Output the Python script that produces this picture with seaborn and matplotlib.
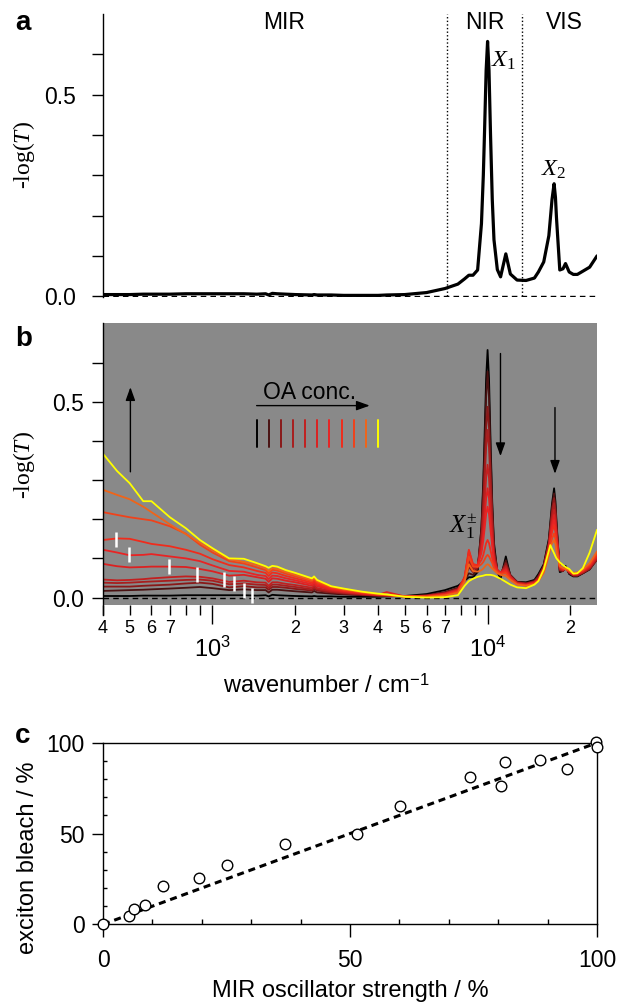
import numpy as np
import pandas as pd
import matplotlib
matplotlib.use("Agg")
import matplotlib.pyplot as plt
from matplotlib.ticker import FixedLocator, FixedFormatter
import seaborn as sns

# ---------------------------------------------------------------- data
# common wavenumber grid (cm^-1) shared by every spectrum
wavenumber = [400, 450, 500, 560, 600, 700, 800, 900, 1000, 1150, 1300, 1450,
              1560, 1600, 1650, 1720, 1850, 2000, 2300, 2340, 2400, 2700, 3000, 3500, 4000, 4300, 5000,
              6000, 7000, 7800, 8250, 8550, 8850, 9200, 9500, 9650, 9750, 9880, 10000, 10120, 10250, 10400,
              10550, 10850, 11150, 11650,
              12100, 12800, 13800, 14800, 15300, 16000, 16700, 16900, 17150, 17450, 17650, 17800, 18300,
              18800, 19200, 19800, 20500, 21200, 22200, 23500, 25000]

# -log(T) spectra, lowest to highest OA concentration
absorb_0 = [0.004, 0.004, 0.004, 0.005, 0.005, 0.005, 0.006, 0.006, 0.006, 0.006, 0.006, 0.005,
            0.006, 0.003, 0.007, 0.006, 0.005, 0.004, 0.003, 0.004, 0.003, 0.003, 0.002, 0.002, 0.002, 0.003, 0.004,
            0.009, 0.019, 0.030, 0.043, 0.052, 0.052, 0.065, 0.180, 0.300, 0.410, 0.560, 0.632, 0.560, 0.400, 0.240,
            0.140, 0.066, 0.048, 0.105,
            0.055, 0.040, 0.039, 0.045, 0.060, 0.085, 0.150, 0.190, 0.240, 0.279, 0.245, 0.195, 0.065,
            0.068, 0.081, 0.060, 0.054, 0.054, 0.062, 0.072, 0.100]
absorb_1 = [0.017, 0.018, 0.019, 0.020, 0.021, 0.023, 0.025, 0.027, 0.024, 0.019, 0.021, 0.019,
            0.019, 0.013, 0.020, 0.020, 0.018, 0.016, 0.013, 0.017, 0.013, 0.010, 0.008, 0.006, 0.004, 0.004, 0.003,
            0.006, 0.014, 0.025, 0.044, 0.062, 0.058, 0.072, 0.178, 0.284, 0.380, 0.511, 0.577, 0.511, 0.375, 0.230,
            0.130, 0.068, 0.055, 0.095,
            0.058, 0.040, 0.037, 0.043, 0.056, 0.082, 0.145, 0.183, 0.232, 0.266, 0.234, 0.187, 0.068,
            0.068, 0.079, 0.062, 0.055, 0.055, 0.062, 0.072, 0.097]
absorb_2 = [0.028, 0.028, 0.028, 0.030, 0.031, 0.033, 0.036, 0.038, 0.035, 0.026, 0.029, 0.026,
            0.026, 0.020, 0.027, 0.027, 0.025, 0.022, 0.018, 0.022, 0.018, 0.013, 0.010, 0.007, 0.005, 0.005, 0.003,
            0.005, 0.012, 0.023, 0.046, 0.078, 0.065, 0.075, 0.162, 0.248, 0.326, 0.433, 0.487, 0.433, 0.322, 0.210,
            0.120, 0.070, 0.060, 0.088,
            0.056, 0.039, 0.036, 0.041, 0.053, 0.079, 0.140, 0.177, 0.222, 0.254, 0.224, 0.180, 0.070,
            0.068, 0.077, 0.063, 0.056, 0.056, 0.063, 0.073, 0.097]
absorb_3 = [0.038, 0.037, 0.038, 0.040, 0.041, 0.043, 0.045, 0.046, 0.043, 0.034, 0.036, 0.033,
            0.032, 0.025, 0.033, 0.033, 0.030, 0.027, 0.021, 0.026, 0.021, 0.015, 0.012, 0.008, 0.006, 0.005, 0.003,
            0.005, 0.011, 0.021, 0.048, 0.092, 0.072, 0.078, 0.152, 0.225, 0.292, 0.383, 0.428, 0.383, 0.288, 0.190,
            0.110, 0.070, 0.062, 0.082,
            0.055, 0.038, 0.035, 0.040, 0.050, 0.077, 0.135, 0.170, 0.211, 0.241, 0.213, 0.172, 0.072,
            0.069, 0.076, 0.064, 0.057, 0.057, 0.064, 0.075, 0.100]
absorb_4 = [0.046, 0.044, 0.045, 0.047, 0.049, 0.052, 0.054, 0.053, 0.049, 0.040, 0.043, 0.039,
            0.038, 0.030, 0.039, 0.039, 0.035, 0.032, 0.025, 0.030, 0.024, 0.017, 0.013, 0.009, 0.006, 0.006, 0.003,
            0.004, 0.010, 0.020, 0.050, 0.104, 0.078, 0.080, 0.134, 0.189, 0.238, 0.305, 0.339, 0.305, 0.235, 0.163,
            0.100, 0.070, 0.063, 0.078,
            0.054, 0.037, 0.034, 0.039, 0.048, 0.075, 0.130, 0.162, 0.197, 0.224, 0.198, 0.162, 0.074,
            0.070, 0.075, 0.065, 0.058, 0.058, 0.065, 0.077, 0.102]
absorb_5 = [0.086, 0.080, 0.077, 0.078, 0.079, 0.079, 0.078, 0.073, 0.067, 0.056, 0.058, 0.052,
            0.048, 0.040, 0.049, 0.048, 0.043, 0.039, 0.030, 0.035, 0.029, 0.020, 0.015, 0.010, 0.007, 0.014, 0.003,
            0.004, 0.009, 0.018, 0.052, 0.114, 0.082, 0.082, 0.123, 0.165, 0.202, 0.253, 0.279, 0.253, 0.200, 0.145,
            0.095, 0.070, 0.064, 0.073,
            0.052, 0.036, 0.033, 0.038, 0.046, 0.073, 0.125, 0.156, 0.187, 0.211, 0.188, 0.155, 0.076,
            0.071, 0.074, 0.066, 0.059, 0.060, 0.067, 0.079, 0.105]
absorb_6 = [0.122, 0.115, 0.108, 0.109, 0.111, 0.105, 0.100, 0.093, 0.082, 0.068, 0.066, 0.058,
            0.055, 0.047, 0.056, 0.055, 0.049, 0.044, 0.034, 0.039, 0.032, 0.022, 0.017, 0.011, 0.007, 0.006, 0.003,
            0.003, 0.008, 0.017, 0.052, 0.120, 0.085, 0.083, 0.114, 0.146, 0.174, 0.213, 0.232, 0.213, 0.172, 0.130,
            0.090, 0.068, 0.063, 0.070,
            0.050, 0.035, 0.032, 0.037, 0.045, 0.071, 0.120, 0.150, 0.177, 0.198, 0.178, 0.148, 0.078,
            0.072, 0.073, 0.067, 0.060, 0.061, 0.068, 0.081, 0.108]
absorb_7 = [0.147, 0.151, 0.150, 0.142, 0.137, 0.131, 0.122, 0.112, 0.098, 0.083, 0.077, 0.068,
            0.063, 0.055, 0.064, 0.062, 0.055, 0.049, 0.038, 0.043, 0.036, 0.024, 0.018, 0.012, 0.008, 0.007, 0.003,
            0.003, 0.007, 0.016, 0.050, 0.122, 0.085, 0.082, 0.096, 0.109, 0.122, 0.139, 0.147, 0.139, 0.121, 0.100,
            0.080, 0.066, 0.062, 0.066,
            0.048, 0.035, 0.031, 0.036, 0.044, 0.069, 0.115, 0.144, 0.167, 0.185, 0.167, 0.140, 0.079,
            0.073, 0.073, 0.068, 0.061, 0.062, 0.069, 0.083, 0.110]
absorb_8 = [0.218, 0.211, 0.205, 0.200, 0.197, 0.182, 0.163, 0.135, 0.115, 0.093, 0.087, 0.077,
            0.070, 0.062, 0.071, 0.069, 0.061, 0.054, 0.042, 0.047, 0.039, 0.026, 0.020, 0.013, 0.008, 0.007, 0.003,
            0.002, 0.006, 0.014, 0.045, 0.105, 0.080, 0.078, 0.085, 0.091, 0.097, 0.105, 0.109, 0.105, 0.097, 0.088,
            0.075, 0.065, 0.060, 0.062,
            0.046, 0.034, 0.031, 0.035, 0.043, 0.066, 0.110, 0.135, 0.150, 0.164, 0.150, 0.128, 0.080,
            0.075, 0.073, 0.068, 0.062, 0.063, 0.070, 0.085, 0.113]
absorb_9 = [0.275, 0.262, 0.251, 0.232, 0.218, 0.187, 0.162, 0.140, 0.121, 0.098, 0.091, 0.083,
            0.075, 0.068, 0.075, 0.073, 0.065, 0.058, 0.045, 0.050, 0.042, 0.028, 0.021, 0.014, 0.009, 0.007, 0.003,
            0.002, 0.005, 0.012, 0.040, 0.085, 0.068, 0.066, 0.070, 0.074, 0.078, 0.083, 0.085, 0.083, 0.078, 0.074,
            0.070, 0.062, 0.058, 0.055,
            0.045, 0.033, 0.030, 0.034, 0.042, 0.063, 0.108, 0.127, 0.138, 0.147, 0.136, 0.118, 0.080,
            0.076, 0.073, 0.069, 0.063, 0.064, 0.072, 0.088, 0.118]
absorb_10 = [0.367, 0.323, 0.292, 0.246, 0.246, 0.205, 0.177, 0.147, 0.126, 0.100, 0.099, 0.088,
             0.080, 0.076, 0.081, 0.079, 0.070, 0.063, 0.049, 0.054, 0.045, 0.029, 0.023, 0.015, 0.010, 0.008, 0.002,
             0.000, 0.001, 0.006, 0.030, 0.042, 0.048, 0.053, 0.055, 0.056, 0.057, 0.058, 0.058, 0.058, 0.058, 0.057,
             0.056, 0.052, 0.048, 0.040,
             0.033, 0.026, 0.024, 0.033, 0.042, 0.072, 0.120, 0.134, 0.124, 0.113, 0.105, 0.100, 0.090,
             0.083, 0.078, 0.073, 0.061, 0.062, 0.075, 0.115, 0.173]

spectra = [absorb_0, absorb_1, absorb_2, absorb_3, absorb_4, absorb_5,
           absorb_6, absorb_7, absorb_8, absorb_9, absorb_10]
oa_colors = ["#000000", "#4a1212", "#8a1818", "#a81e1e", "#c22020", "#dc2121",
             "#e82424", "#f02c1c", "#f0421a", "#f06418", "#ffff00"]

# white markers on the MIR tails
mark_wavenumber = [447, 498, 697, 876, 1097, 1193, 1297, 1395]
mark_absorbance = [0.148, 0.110, 0.080, 0.058, 0.046, 0.035, 0.019, 0.005]

# spectral region borders (cm^-1)
region_borders = [7143, 13333]

# panel c
mir_strength = [0, 5.3, 6.2, 8.4, 12.1, 19.5, 25.0, 36.9, 51.4, 60.2, 74.2, 80.5, 81.4, 88.5, 93.9, 99.8, 100.0]
exciton_bleach = [0, 4.8, 8.4, 10.8, 21.3, 25.3, 32.7, 44.2, 49.7, 65.3, 80.9, 76.3, 89.5, 90.5, 85.3, 100.2, 97.8]
fit_x = [0, 100]
fit_y = [0, 100]

# ---------------------------------------------------------------- style
sns.set_theme(style="ticks", rc={"text.color": "black", "axes.labelcolor": "black",
                                 "axes.edgecolor": "black", "xtick.color": "black",
                                 "ytick.color": "black", "axes.linewidth": 1.0})
plt.rcParams["font.family"] = ["Liberation Sans", "DejaVu Sans"]
plt.rcParams["mathtext.fontset"] = "custom"
plt.rcParams["mathtext.rm"] = "Liberation Serif"
plt.rcParams["mathtext.it"] = "Liberation Serif:italic"
plt.rcParams["mathtext.bf"] = "Liberation Serif:bold"

TICK_FS = 16.5
LABEL_FS = 17
SERIF = ["Liberation Serif", "DejaVu Serif"]
WN_LIM = (400, 25000)

fig = plt.figure(figsize=(6.18, 10.02), dpi=100)
fig.patch.set_facecolor("white")
ax_a = fig.add_axes([0.1667, 0.7036, 0.7994, 0.2824])
ax_b = fig.add_axes([0.1667, 0.3962, 0.7994, 0.2811])
ax_c = fig.add_axes([0.1667, 0.0775, 0.7994, 0.1812])


def absorbance_yaxis(ax, pad):
    ax.set_yticks([0.0, 0.5])
    ax.set_yticklabels(["0.0", "0.5"])
    ax.set_yticks([0.1, 0.2, 0.3, 0.4, 0.6], minor=True)
    ax.tick_params(axis="y", which="both", direction="out", length=7.6, width=1,
                   pad=pad, labelsize=TICK_FS)
    ax.set_ylabel("-log($\\mathit{T}$)", family=SERIF, fontsize=LABEL_FS, va="center")


# ---------------------------------------------------------------- panel a
sns.lineplot(x=wavenumber, y=absorb_0, ax=ax_a, color="black", linewidth=2.3,
             sort=False, estimator=None)
ax_a.set_xscale("log")
ax_a.set_xlim(*WN_LIM)
ax_a.set_ylim(-0.002, 0.70)
for side in ("top", "right", "bottom"):
    ax_a.spines[side].set_visible(False)
ax_a.tick_params(axis="x", which="both", bottom=False, labelbottom=False)
absorbance_yaxis(ax_a, pad=12)
ax_a.yaxis.set_label_coords(-0.16, 0.5)
ax_a.axhline(0, color="black", lw=1, ls=(0, (4, 3)), zorder=1)
ax_a.vlines(region_borders, 0, 0.70, colors="black", lw=1, linestyles=(0, (1, 1.6)))
for wn, name in [(1816, "MIR"), (9751, "NIR"), (19060, "VIS")]:
    ax_a.text(wn, 0.678, name, ha="center", va="center", fontsize=16.5)
ax_a.text(10315, 0.569, "$\\mathit{X}_{\\mathit{1}}$", fontsize=17.5, ha="left", va="baseline")
ax_a.text(15600, 0.300, "$\\mathit{X}_{\\mathit{2}}$", fontsize=17.5, ha="left", va="baseline")

# ---------------------------------------------------------------- panel b
frames = [pd.DataFrame({"wavenumber": wavenumber, "absorbance": vals, "step": f"s{i}"})
          for i, vals in enumerate(spectra)]
spec_df = pd.concat(frames, ignore_index=True)
palette = {f"s{i}": c for i, c in enumerate(oa_colors)}
ax_b.set_facecolor("#898989")
sns.lineplot(data=spec_df, x="wavenumber", y="absorbance", hue="step", palette=palette,
             sort=False, estimator=None, legend=False, linewidth=1.3, ax=ax_b)
ax_b.set_xscale("log")
ax_b.set_xlim(*WN_LIM)
ax_b.set_ylim(-0.019, 0.70)
for side in ("top", "right", "bottom"):
    ax_b.spines[side].set_visible(False)
ax_b.spines["left"].set_bounds(-0.045, 0.70)
absorbance_yaxis(ax_b, pad=6)
ax_b.yaxis.set_label_coords(-0.16, 0.497)
ax_b.axhline(0, color="black", lw=1, ls=(0, (4, 3)), zorder=1)

ax_b.xaxis.set_major_locator(FixedLocator([1000, 10000]))
ax_b.xaxis.set_major_formatter(FixedFormatter(["$\\mathregular{10^3}$", "$\\mathregular{10^4}$"]))
ax_b.xaxis.set_minor_locator(FixedLocator([400, 500, 600, 700, 800, 900,
                                           2000, 3000, 4000, 5000, 6000, 7000, 8000, 9000, 20000]))
ax_b.xaxis.set_minor_formatter(FixedFormatter(["4", "5", "6", "7", "", "",
                                               "2", "3", "4", "5", "6", "7", "", "", "2"]))
ax_b.tick_params(axis="x", which="major", direction="out", length=14, width=1, pad=9, labelsize=17)
ax_b.tick_params(axis="x", which="minor", direction="out", length=7, width=1, pad=4, labelsize=13)
ax_b.set_xlabel("wavenumber / cm$^{\\mathregular{-1}}$", fontsize=LABEL_FS)
ax_b.xaxis.set_label_coords(0.453, -0.245)

ax_b.vlines(mark_wavenumber, np.array(mark_absorbance) - 0.019, np.array(mark_absorbance) + 0.019,
            colors="white", lw=1.8, zorder=5)

arrow = dict(arrowstyle="-|>,head_length=0.5,head_width=0.18", color="black", lw=1,
             mutation_scale=16, shrinkA=0, shrinkB=0)
ax_b.annotate("", xy=(503, 0.537), xytext=(503, 0.321), arrowprops=arrow)
ax_b.annotate("", xy=(11140, 0.361), xytext=(11140, 0.623), arrowprops=arrow)
ax_b.annotate("", xy=(17580, 0.316), xytext=(17580, 0.485), arrowprops=arrow)
ax_b.annotate("", xy=(3729, 0.49), xytext=(1447, 0.49), arrowprops=arrow)
ax_b.text(2261, 0.508, "OA conc.", ha="center", va="baseline", fontsize=16.5)
ax_b.text(7269, 0.165, "$\\mathit{X}_{\\mathit{1}}^{\\pm}$", fontsize=18, ha="left", va="baseline")

# colour key for the concentration series
key_x = np.linspace(0.312, 0.556, len(oa_colors))
for xk, col in zip(key_x, oa_colors):
    ax_b.plot([xk, xk], [0.562, 0.657], color=col, lw=1.4, transform=ax_b.transAxes)

# ---------------------------------------------------------------- panel c
ax_c.plot(fit_x, fit_y, color="black", lw=2.2, ls=(0, (2.3, 1.6)), zorder=2)
sns.scatterplot(x=mir_strength, y=exciton_bleach, ax=ax_c, s=58, color="white",
                edgecolor="black", linewidth=1.0, zorder=3, clip_on=False)
ax_c.set_xlim(0, 100)
ax_c.set_ylim(0, 100)
ax_c.set_xticks([0, 50, 100])
ax_c.set_yticks([0, 50, 100])
ax_c.set_xticks([10, 20, 30, 40, 60, 70, 80, 90], minor=True)
ax_c.set_yticks([10, 20, 30, 40, 60, 70, 80, 90], minor=True)
ax_c.tick_params(axis="x", which="major", direction="out", length=9, width=1, pad=9, labelsize=TICK_FS)
ax_c.tick_params(axis="x", which="minor", direction="in", length=3.6, width=1)
ax_c.tick_params(axis="y", which="major", direction="out", length=7.6, width=1, pad=5.5, labelsize=TICK_FS)
ax_c.tick_params(axis="y", which="minor", direction="in", length=2.8, width=1)
ax_c.set_xlabel("MIR oscillator strength / %", fontsize=LABEL_FS)
ax_c.xaxis.set_label_coords(0.5, -0.305)
ax_c.set_ylabel("exciton bleach / %", fontsize=LABEL_FS, va="center")
ax_c.yaxis.set_label_coords(-0.152, 0.368)

# panel letters
for (px, py), letter in [((15, 30), "a"), ((15, 346), "b"), ((15, 743), "c")]:
    fig.text(px / 618, 1 - py / 1002, letter, fontsize=20, fontweight="bold", va="baseline")

fig.savefig("out.png", dpi=100)
